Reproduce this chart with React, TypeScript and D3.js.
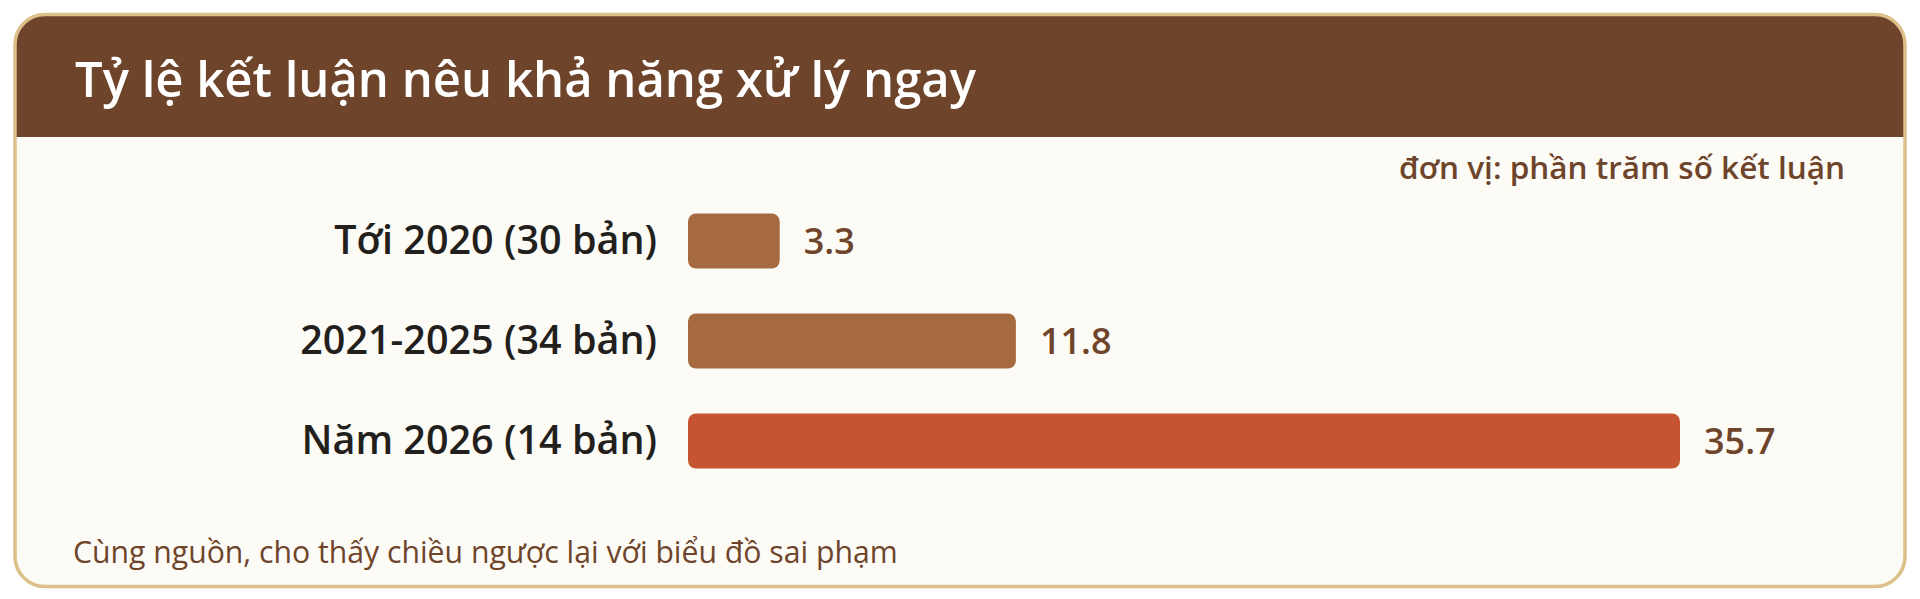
import React from "react";
import * as d3 from "d3";

const title = "Tỷ lệ kết luận nêu khả năng xử lý ngay";
const unitLabel = "đơn vị: phần trăm số kết luận";
const footnote = "Cùng nguồn, cho thấy chiều ngược lại với biểu đồ sai phạm";
const categories = ["Tới 2020 (30 bản)", "2021-2025 (34 bản)", "Năm 2026 (14 bản)"];
const values = [3.3, 11.8, 35.7];
const barColors = ["#a56a40", "#a56a40", "#c55433"];

const W = 1920;
const H = 599;
const FONT = "'Open Sans', 'Noto Sans', sans-serif";

export default function App() {
  const x = d3.scaleLinear().domain([0, d3.max(values) as number]).range([688, 1680]);
  const y = d3.scaleBand<string>().domain(categories).range([191, 491]).paddingInner(0.45).paddingOuter(0.225);

  const frame = { x: 15, y: 14.5, w: 1890, h: 572, r: 30 };
  const headerBottom = 137;

  return (
    <svg
      width={W}
      height={H}
      viewBox={`0 0 ${W} ${H}`}
      style={{ position: "absolute", left: 0, top: 0, background: "#ffffff" }}
    >
      <defs>
        <clipPath id="frameClip">
          <rect x={frame.x} y={frame.y} width={frame.w} height={frame.h} rx={frame.r} ry={frame.r} />
        </clipPath>
      </defs>
      <rect x={frame.x} y={frame.y} width={frame.w} height={frame.h} rx={frame.r} ry={frame.r} fill="#fdfbf6" />
      <g clipPath="url(#frameClip)">
        <rect x={frame.x} y={frame.y} width={frame.w} height={headerBottom - frame.y} fill="#6e452b" />
      </g>
      <rect
        x={frame.x}
        y={frame.y}
        width={frame.w}
        height={frame.h}
        rx={frame.r}
        ry={frame.r}
        fill="none"
        stroke="#dcc08a"
        strokeWidth={3.5}
      />
      <text x={75} y={97} fill="#ffffff" fontFamily={FONT} fontWeight={600} fontSize={49}>
        {title}
      </text>
      <text x={1845} y={179} textAnchor="end" fill="#6e452b" fontFamily={FONT} fontWeight={600} fontSize={31.5}>
        {unitLabel}
      </text>
      {categories.map((c, i) => {
        const by = y(c) as number;
        const bh = y.bandwidth();
        return (
          <g key={c}>
            <text
              x={657}
              y={by + bh / 2 + 13}
              textAnchor="end"
              fill="#221f1c"
              fontFamily={FONT}
              fontWeight={600}
              fontSize={39.5}
            >
              {c}
            </text>
            <rect x={x(0)} y={by} width={x(values[i]) - x(0)} height={bh} rx={8} ry={8} fill={barColors[i]} />
            <text
              x={x(values[i]) + 24}
              y={by + bh / 2 + 13}
              fill="#6e452b"
              fontFamily={FONT}
              fontWeight={600}
              fontSize={36}
            >
              {d3.format(".1f")(values[i])}
            </text>
          </g>
        );
      })}
      <text x={73} y={563} fill="#6e452b" fontFamily={FONT} fontWeight={400} fontSize={30.2}>
        {footnote}
      </text>
    </svg>
  );
}
